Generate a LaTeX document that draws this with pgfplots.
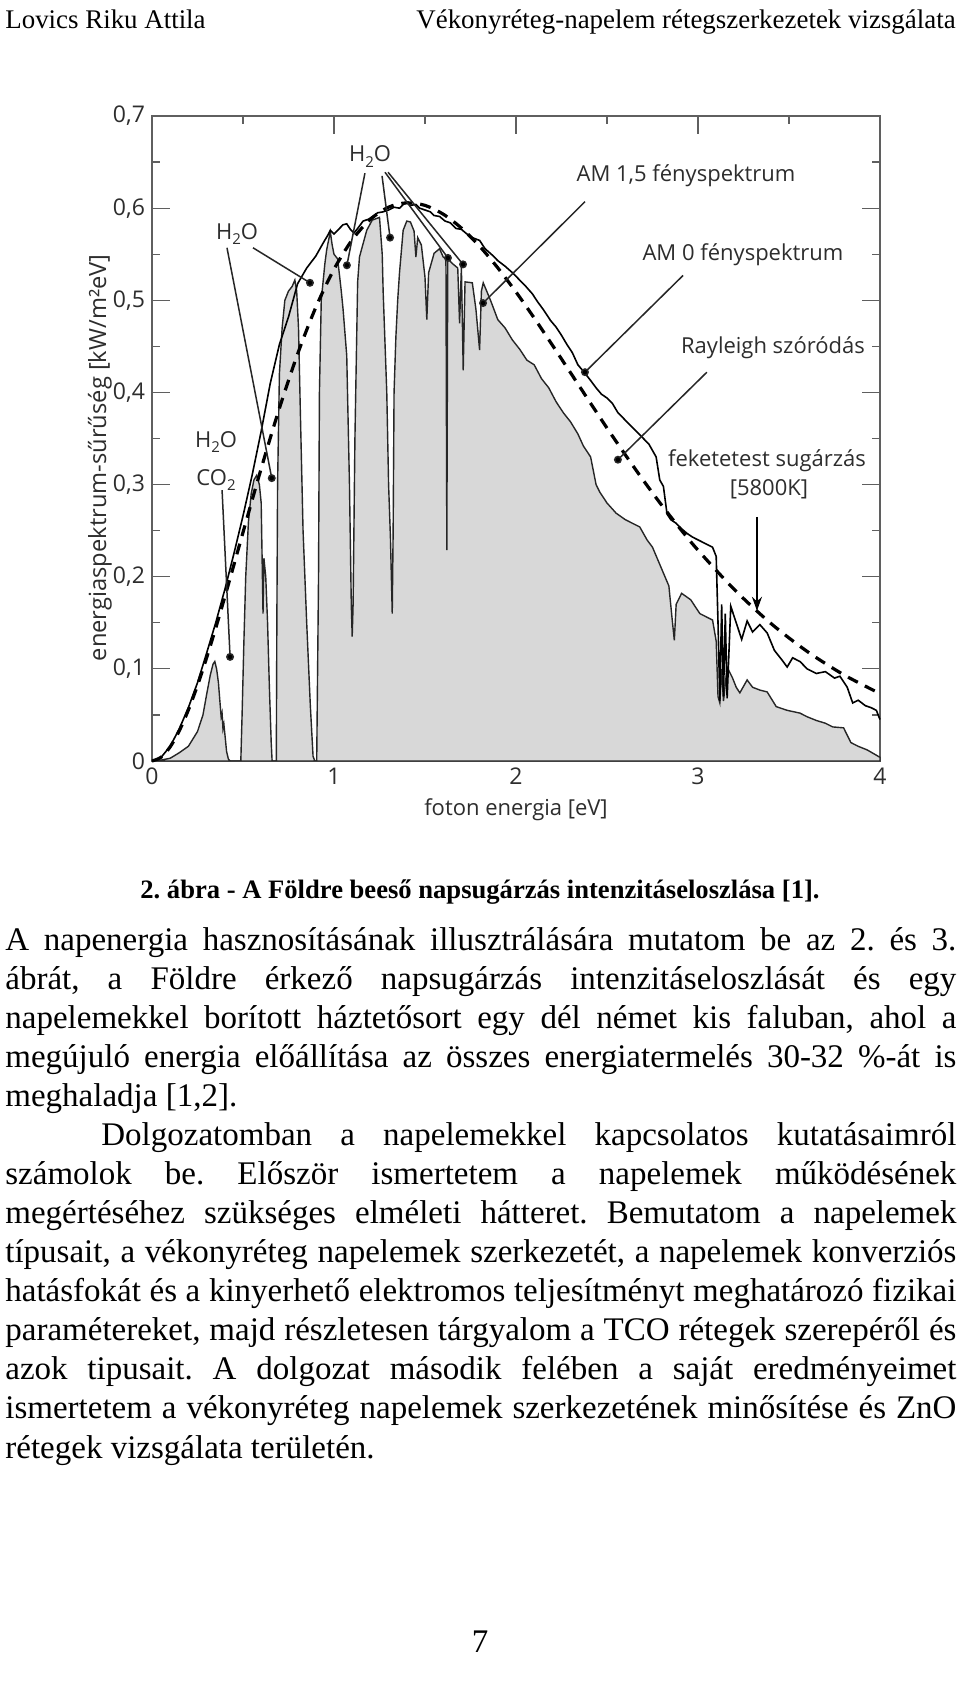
\documentclass[border=0pt]{standalone}
\usepackage{fontspec}
\setmainfont{Liberation Serif}
\newfontfamily\chartfont{Open Sans}
\usepackage{pgfplots}
\pgfplotsset{compat=1.18}
\usetikzlibrary{arrows.meta}
\definecolor{axgray}{RGB}{95,95,95}
\definecolor{txtgray}{RGB}{45,45,45}
\definecolor{fillgray}{RGB}{216,216,216}
\frenchspacing

\pgfplotsset{leader/.style={black!85, line width=0.75pt, mark=*, mark size=1.6pt, mark indices={2}, mark options={solid, fill=black}}}

\newcommand{\jline}[2]{\node[anchor=base west, inner sep=0pt] at (2.5pt,-#1pt) {\makebox[475.5pt][s]{#2}};}
\newcommand{\sub}[1]{\raisebox{-0.45ex}{\fontsize{7.5}{8}\selectfont #1}}

\begin{document}
\begin{tikzpicture}
\useasboundingbox (0,0) rectangle (480pt,-844pt);
\fill[white] (0,0) rectangle (480pt,-844pt);

% header
\node[anchor=base west, inner sep=0pt] at (2.5pt,-14pt) {\fontsize{13.45}{16}\selectfont Lovics Riku Attila};
\node[anchor=base east, inner sep=0pt] at (478pt,-14pt) {\fontsize{13.45}{16}\selectfont Vékonyréteg-napelem rétegszerkezetek vizsgálata};

\begin{axis}[
  at={(76pt,-380.5pt)}, anchor=south west,
  scale only axis, width=364pt, height=322.5pt,
  xmin=0, xmax=4, ymin=0, ymax=0.7,
  xtick={0,1,2,3,4}, xticklabels={0,1,2,3,4},
  minor xtick={0.5,1.5,2.5,3.5},
  ytick={0,0.1,0.2,0.3,0.4,0.5,0.6,0.7},
  yticklabels={0,{0,1},{0,2},{0,3},{0,4},{0,5},{0,6},{0,7}},
  minor ytick={0.05,0.15,0.25,0.35,0.45,0.55,0.65},
  tick align=inside, major tick length=9pt, minor tick length=4pt,
  axis line style={axgray, line width=0.6pt},
  every tick/.style={axgray, line width=0.6pt},
  tick label style={font=\chartfont\fontsize{11.5}{13}\selectfont, text=txtgray},
  clip=false,
]
% AM 1.5 (filled)
\addplot[draw=black!85, line width=0.7pt, fill=fillgray] table {
0 0
0.05 0.001
0.1 0.003
0.15 0.009
0.2 0.016
0.25 0.032
0.28 0.05
0.3 0.072
0.32 0.093
0.335 0.105
0.345 0.108
0.355 0.100
0.365 0.085
0.375 0.06
0.38 0.048
0.385 0.052
0.39 0.035
0.395 0.040
0.40 0.030
0.41 0.010
0.42 0.002
0.43 0
0.48 0
0.488 0
0.495 0.05
0.505 0.13
0.515 0.2
0.53 0.26
0.545 0.29
0.56 0.305
0.575 0.31
0.59 0.30
0.60 0.28
0.605 0.22
0.61 0.16
0.615 0.22
0.625 0.2
0.635 0.15
0.645 0.08
0.655 0.02
0.66 0
0.683 0
0.686 0.15
0.69 0.3
0.70 0.42
0.715 0.47
0.73 0.5
0.75 0.51
0.77 0.515
0.785 0.522
0.795 0.51
0.805 0.47
0.815 0.38
0.83 0.25
0.85 0.15
0.87 0.06
0.885 0.005
0.895 0
0.905 0
0.915 0.2
0.92 0.4
0.93 0.5
0.95 0.54
0.96 0.555
0.97 0.565
0.98 0.574
0.99 0.56
1.0 0.55
1.02 0.545
1.04 0.51
1.05 0.49
1.07 0.44
1.085 0.3
1.095 0.17
1.10 0.135
1.105 0.17
1.115 0.35
1.13 0.52
1.14 0.547
1.18 0.576
1.21 0.587
1.25 0.59
1.265 0.55
1.27 0.51
1.29 0.40
1.30 0.30
1.31 0.243
1.32 0.16
1.325 0.25
1.33 0.40
1.34 0.46
1.35 0.50
1.36 0.53
1.38 0.576
1.40 0.586
1.42 0.585
1.44 0.575
1.45 0.547
1.46 0.568
1.48 0.56
1.50 0.525
1.51 0.479
1.52 0.53
1.55 0.551
1.58 0.556
1.60 0.547
1.615 0.545
1.62 0.229
1.625 0.545
1.65 0.54
1.68 0.535
1.69 0.475
1.70 0.536
1.71 0.424
1.72 0.52
1.76 0.519
1.78 0.49
1.80 0.446
1.81 0.51
1.82 0.519
1.86 0.50
1.9 0.479
1.94 0.47
1.98 0.457
2.02 0.447
2.06 0.435
2.1 0.43
2.14 0.415
2.18 0.405
2.22 0.39
2.26 0.378
2.3 0.368
2.34 0.355
2.37 0.342
2.41 0.33
2.44 0.30
2.46 0.292
2.5 0.28
2.55 0.269
2.6 0.262
2.64 0.258
2.68 0.254
2.72 0.24
2.75 0.232
2.78 0.218
2.81 0.204
2.84 0.19
2.86 0.15
2.87 0.131
2.88 0.17
2.91 0.182
2.96 0.175
3.01 0.16
3.05 0.156
3.08 0.153
3.10 0.13
3.11 0.07
3.12 0.063
3.13 0.10
3.14 0.065
3.16 0.102
3.19 0.09
3.21 0.08
3.23 0.074
3.27 0.088
3.3 0.08
3.34 0.077
3.38 0.075
3.43 0.059
3.49 0.055
3.56 0.052
3.6 0.048
3.65 0.044
3.7 0.041
3.74 0.037
3.8 0.036
3.84 0.02
3.88 0.016
3.93 0.012
4.0 0.004
} \closedcycle;
% AM 0
\addplot[black, line width=0.8pt] table {
0 0
0.05 0.004
0.1 0.016
0.15 0.035
0.2 0.058
0.25 0.085
0.3 0.117
0.35 0.15
0.4 0.186
0.45 0.225
0.5 0.266
0.55 0.31
0.6 0.358
0.65 0.41
0.7 0.452
0.75 0.482
0.8 0.518
0.85 0.535
0.9 0.548
0.94 0.562
0.97 0.572
0.98 0.576
1.0 0.572
1.03 0.578
1.05 0.582
1.07 0.583
1.09 0.577
1.11 0.573
1.13 0.578
1.16 0.586
1.19 0.588
1.22 0.592
1.24 0.595
1.27 0.596
1.3 0.598
1.33 0.601
1.36 0.600
1.38 0.604
1.4 0.606
1.42 0.603
1.45 0.604
1.47 0.600
1.5 0.598
1.53 0.596
1.55 0.592
1.58 0.591
1.61 0.586
1.64 0.584
1.67 0.578
1.7 0.577
1.73 0.572
1.76 0.568
1.8 0.565
1.83 0.556
1.87 0.549
1.9 0.543
1.94 0.537
1.98 0.530
2.02 0.522
2.05 0.516
2.09 0.507
2.12 0.498
2.15 0.490
2.19 0.478
2.22 0.471
2.25 0.462
2.28 0.452
2.31 0.443
2.34 0.430
2.37 0.423
2.41 0.413
2.44 0.405
2.47 0.398
2.5 0.394
2.53 0.388
2.56 0.378
2.6 0.370
2.64 0.362
2.67 0.356
2.7 0.350
2.73 0.344
2.77 0.330
2.79 0.305
2.81 0.298
2.83 0.268
2.85 0.262
2.88 0.258
2.91 0.252
2.94 0.247
2.97 0.243
3.0 0.240
3.04 0.236
3.08 0.232
3.1 0.222
3.11 0.150
3.12 0.065
3.13 0.170
3.14 0.070
3.15 0.160
3.16 0.068
3.18 0.168
3.21 0.150
3.24 0.132
3.27 0.152
3.3 0.140
3.34 0.148
3.38 0.139
3.42 0.120
3.46 0.110
3.49 0.102
3.52 0.112
3.56 0.108
3.6 0.100
3.65 0.095
3.7 0.097
3.75 0.090
3.78 0.092
3.82 0.080
3.85 0.063
3.88 0.066
3.92 0.060
3.95 0.058
3.98 0.055
4.0 0.045
};
% blackbody 5800 K
\addplot[black, line width=1.6pt, dash pattern=on 5.5pt off 4pt, smooth] table {
0 0
0.05 0.0041
0.1 0.0154
0.15 0.0329
0.2 0.0555
0.25 0.0821
0.3 0.1120
0.35 0.1442
0.4 0.1781
0.45 0.2129
0.5 0.2481
0.6 0.3175
0.7 0.3828
0.8 0.4417
0.9 0.4923
1.0 0.5337
1.1 0.5656
1.2 0.5879
1.3 0.6011
1.4 0.6058
1.5 0.6030
1.6 0.5935
1.7 0.5784
1.8 0.5587
1.9 0.5352
2.0 0.5090
2.1 0.4808
2.2 0.4513
2.3 0.4213
2.4 0.3912
2.5 0.3614
2.6 0.3325
2.7 0.3045
2.8 0.2778
2.9 0.2526
3.0 0.2288
3.2 0.1860
3.4 0.1494
3.6 0.1189
3.8 0.0937
4.0 0.0732
};
% leader lines
\addplot[leader] coordinates {(1.170,0.638) (1.071,0.538)};
\addplot[leader] coordinates {(1.264,0.635) (1.308,0.568)};
\addplot[leader] coordinates {(1.280,0.639) (1.626,0.546)};
\addplot[leader] coordinates {(1.297,0.639) (1.709,0.539)};
\addplot[leader] coordinates {(0.412,0.557) (0.658,0.307)};
\addplot[leader] coordinates {(0.555,0.557) (0.868,0.519)};
\addplot[leader] coordinates {(0.385,0.294) (0.429,0.113)};
\addplot[leader] coordinates {(2.379,0.607) (1.819,0.497)};
\addplot[leader] coordinates {(2.918,0.527) (2.379,0.422)};
\addplot[leader] coordinates {(3.049,0.422) (2.560,0.327)};
\addplot[black, line width=0.9pt, -{Stealth[length=7pt,width=5pt]}] coordinates {(3.324,0.265) (3.324,0.163)};

% labels
\begin{scope}[every node/.style={font=\chartfont\fontsize{11}{13}\selectfont, text=txtgray, inner sep=0pt}]
\node at (axis cs:1.198,0.656) {H\sub{2}O};
\node at (axis cs:0.467,0.572) {H\sub{2}O};
\node at (axis cs:0.352,0.346) {H\sub{2}O};
\node at (axis cs:0.352,0.305) {CO\sub{2}};
\node at (axis cs:2.934,0.635) {AM 1,5 fényspektrum};
\node at (axis cs:3.247,0.549) {AM 0 fényspektrum};
\node at (axis cs:3.412,0.449) {Rayleigh szóródás};
\node at (axis cs:3.379,0.326) {feketetest sugárzás};
\node at (axis cs:3.390,0.295) {[5800K]};
\node at (rel axis cs:0.5,0) [yshift=-24.5pt] {foton energia [eV]};
\node[xshift=-26pt, rotate=90, font=\chartfont\fontsize{11.85}{14}\selectfont] at (rel axis cs:0,0.47) {energiaspektrum-sűrűség [kW/m²eV]};
\end{scope}
\end{axis}

% caption
\node[anchor=base, inner sep=0pt] at (240pt,-449pt) {\fontsize{13.3}{16}\selectfont\bfseries 2. ábra - A Földre beeső napsugárzás intenzitáseloszlása [1].};

% body text
\begin{scope}[every node/.style={font=\fontsize{16.5}{19.5}\selectfont}]
\jline{475}{A napenergia hasznosításának illusztrálására mutatom be az 2. és 3.}
\jline{494.54}{ábrát, a Földre érkező napsugárzás intenzitáseloszlását és egy}
\jline{514.08}{napelemekkel borított háztetősort egy dél német kis faluban, ahol a}
\jline{533.62}{megújuló energia előállítása az összes energiatermelés 30-32 \%-át is}
\node[anchor=base west, inner sep=0pt] at (2.5pt,-553.16pt) {meghaladja [1,2].};
\node[anchor=base west, inner sep=0pt] at (50.5pt,-572.7pt) {\makebox[427.5pt][s]{Dolgozatomban a napelemekkel kapcsolatos kutatásaimról}};
\jline{592.24}{számolok be. Először ismertetem a napelemek működésének}
\jline{611.78}{megértéséhez szükséges elméleti hátteret. Bemutatom a napelemek}
\jline{631.32}{típusait, a vékonyréteg napelemek szerkezetét, a napelemek konverziós}
\jline{650.86}{hatásfokát és a kinyerhető elektromos teljesítményt meghatározó fizikai}
\jline{670.4}{paramétereket, majd részletesen tárgyalom a TCO rétegek szerepéről és}
\jline{689.94}{azok tipusait. A dolgozat második felében a saját eredményeimet}
\jline{709.48}{ismertetem a vékonyréteg napelemek szerkezetének minősítése és ZnO}
\node[anchor=base west, inner sep=0pt] at (2.5pt,-729.02pt) {rétegek vizsgálata területén.};
\node[anchor=base, inner sep=0pt] at (240pt,-826pt) {7};
\end{scope}
\end{tikzpicture}
\end{document}
